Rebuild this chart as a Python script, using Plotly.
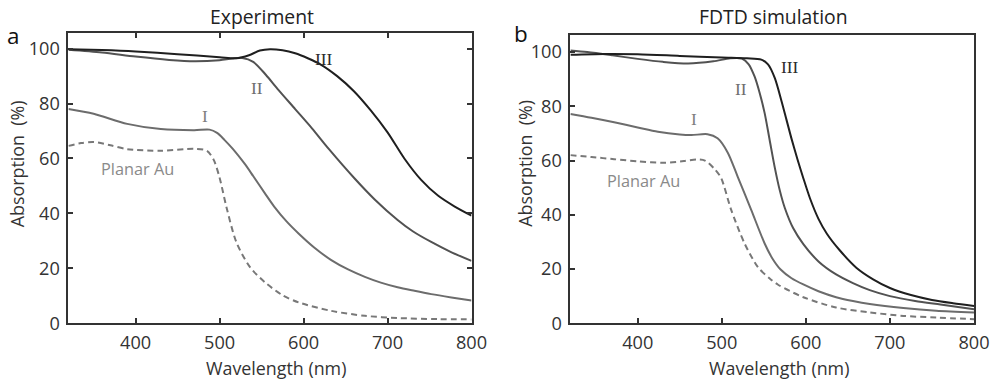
import plotly.graph_objects as go

W, H = 992, 379          # reference canvas (all positions below are given in these pixels)
FW, FH = 1007, 393       # figure size (capture appears scaled by ~0.985 x 0.965)
FS = 1.02                # font compensation

# ---------------- data: Experiment (panel a) ----------------
exp_III_wl = [320, 360, 400, 450, 500, 520, 535, 548, 560, 575, 590, 605, 620, 640, 660, 680, 700, 720, 740, 760, 780, 800]
exp_III = [99.8, 99.5, 99.0, 98.0, 96.9, 96.5, 97.6, 99.3, 99.8, 99.4, 98.3, 96.5, 94.3, 90.0, 84.5, 77.5, 69.5, 60.0, 52.2, 46.5, 42.5, 39.2]

exp_II_wl = [320, 360, 400, 440, 470, 500, 515, 527, 540, 555, 570, 590, 610, 630, 660, 685, 712, 730, 752, 775, 800]
exp_II = [99.6, 98.6, 97.1, 95.9, 95.4, 95.8, 96.4, 96.6, 95.2, 90.5, 85.0, 78.0, 71.0, 63.5, 53.0, 45.0, 37.6, 33.5, 29.6, 26.0, 22.7]

exp_I_wl = [320, 350, 390, 430, 470, 488, 497, 506, 516, 530, 540, 554, 565, 580, 594, 613, 633, 653, 673, 692, 712, 732, 752, 776, 800]
exp_I = [78.0, 76.3, 72.6, 70.7, 70.3, 70.5, 69.3, 66.7, 63.4, 58.0, 53.6, 47.3, 42.5, 37.0, 32.7, 27.5, 23.0, 19.6, 16.9, 14.8, 13.1, 11.8, 10.6, 9.4, 8.3]

exp_P_wl = [320, 335, 350, 370, 390, 430, 470, 485, 493, 500, 508, 520, 536, 554, 575, 594, 633, 673, 712, 760, 800]
exp_P = [64.6, 65.6, 66.0, 64.8, 63.4, 62.8, 63.5, 62.8, 59.5, 53.0, 42.5, 29.5, 20.5, 14.9, 10.2, 7.6, 4.5, 2.7, 1.9, 1.5, 1.4]

# ---------------- data: FDTD simulation (panel b) ----------------
sim_III_wl = [320, 360, 400, 450, 500, 530, 547, 555, 563, 571, 577, 583, 590, 597, 605, 615, 625, 640, 660, 680, 700, 725, 750, 775, 800]
sim_III = [99.0, 99.3, 99.2, 98.6, 98.0, 97.7, 97.2, 95.5, 90.5, 82.0, 75.0, 68.0, 60.5, 53.5, 46.0, 38.5, 33.0, 27.0, 20.5, 16.2, 13.0, 10.4, 8.6, 7.4, 6.4]

sim_II_wl = [320, 340, 370, 400, 430, 460, 490, 510, 524, 532, 539, 545, 551, 557, 563, 569, 575, 585, 597, 615, 636, 656, 676, 700, 730, 760, 800]
sim_II = [100.6, 100.0, 98.8, 97.5, 96.4, 95.8, 96.6, 97.7, 97.6, 95.5, 91.0, 85.0, 77.5, 67.5, 57.5, 49.0, 42.5, 35.0, 29.2, 22.8, 18.0, 14.8, 12.2, 10.0, 8.2, 6.9, 5.2]

sim_I_wl = [320, 345, 372, 400, 424, 450, 464, 483, 495, 507, 519, 535, 551, 560, 570, 583, 597, 615, 636, 656, 676, 716, 755, 800]
sim_I = [77.2, 75.8, 74.1, 72.2, 70.6, 69.6, 69.4, 69.7, 68.2, 63.0, 54.0, 41.8, 29.4, 24.0, 19.8, 16.6, 14.3, 11.8, 9.6, 8.2, 7.1, 5.6, 4.6, 4.0]

sim_P_wl = [320, 345, 372, 400, 432, 455, 470, 480, 491, 499, 511, 527, 543, 557, 567, 597, 636, 676, 716, 755, 800]
sim_P = [62.0, 61.3, 60.5, 59.7, 59.2, 59.8, 60.4, 60.0, 57.0, 53.7, 42.0, 29.5, 20.7, 16.5, 14.2, 9.6, 5.8, 4.0, 2.7, 2.1, 1.5]

x_ticks = [400, 500, 600, 700, 800]
y_ticks = [0, 20, 40, 60, 80, 100]

panel_titles = ["Experiment", "FDTD simulation"]
panel_letters = ["a", "b"]
curve_labels = ["III", "II", "I", "Planar Au"]
x_title = "Wavelength (nm)"
y_title = "Absorption\u00a0 (%)"

exp_label_pos = [(624, 96), (544, 85.6), (482.5, 75.2), (402, 56)]
sim_label_pos = [(581, 94.3), (523, 86.1), (466.4, 75), (407, 52.3)]

# ---------------- styling ----------------
C_III, C_II, C_I, C_P = "#1f1f1f", "#525252", "#6c6c6c", "#787878"
T_III, T_II, T_I, T_P = "#2b2b2b", "#6e6e6e", "#7e7e7e", "#8a8a8a"
AX = "#333333"
SANS = "Open Sans, sans-serif"
SERIF = "Liberation Serif, serif"

fig = go.Figure()

def add(xs, ys, color, axis, dash="solid"):
    fig.add_trace(go.Scatter(
        x=xs, y=ys, mode="lines", xaxis="x" + axis, yaxis="y" + axis,
        line=dict(color=color, width=2, dash=dash, shape="spline", smoothing=0.8),
        showlegend=False, hoverinfo="skip"))

add(exp_P_wl, exp_P, C_P, "", "6px,4px")
add(exp_I_wl, exp_I, C_I, "")
add(exp_II_wl, exp_II, C_II, "")
add(exp_III_wl, exp_III, C_III, "")
add(sim_P_wl, sim_P, C_P, "2", "6px,4px")
add(sim_I_wl, sim_I, C_I, "2")
add(sim_II_wl, sim_II, C_II, "2")
add(sim_III_wl, sim_III, C_III, "2")

def px_x(p):
    return p / W

def px_y(p):
    return 1 - p / H

TICKF = 17.8 * FS

def xaxis(domain, mirror):
    return dict(domain=domain, range=[320, 800], tickvals=x_ticks, ticks="inside",
                ticklen=5, tickwidth=1.5, tickcolor=AX, showline=True, linewidth=2,
                linecolor=AX, mirror=mirror, showgrid=False, zeroline=False,
                tickfont=dict(family=SANS, size=TICKF, color=AX), ticklabelstandoff=2)

def yaxis(domain, rng, anchor, mirror):
    return dict(domain=domain, range=rng, tickvals=y_ticks, ticks="inside",
                ticklen=5, tickwidth=1.5, tickcolor=AX, showline=True, linewidth=2,
                linecolor=AX, mirror=mirror, showgrid=False, zeroline=False,
                anchor=anchor, tickfont=dict(family=SANS, size=TICKF, color=AX),
                ticklabelstandoff=3)

ybot = px_y(320.7)
fig.update_layout(
    width=FW, height=FH, autosize=False, margin=dict(l=0, r=0, t=0, b=0),
    paper_bgcolor="white", plot_bgcolor="white",
    xaxis=xaxis([px_x(68.5), px_x(472)], "ticks") | dict(anchor="y"),
    yaxis=yaxis([ybot, px_y(33)], [0, 105.6], "x", "ticks"),
    xaxis2=xaxis([px_x(571), px_x(975)], True) | dict(anchor="y2"),
    yaxis2=yaxis([ybot, px_y(35)], [0, 106.2], "x2", True),
)

ann = []
for t, cx in zip(panel_titles, [262, 774]):
    ann.append(dict(text=t, x=px_x(cx), y=px_y(16.5), xref="paper", yref="paper",
                    showarrow=False, xanchor="center", yanchor="middle",
                    font=dict(family=SANS, size=19 * FS, color="#222")))
for t, cx, cy in zip(panel_letters, [13, 522], [35, 33]):
    ann.append(dict(text=t, x=px_x(cx), y=px_y(cy), xref="paper", yref="paper",
                    showarrow=False, xanchor="center", yanchor="middle",
                    font=dict(family=SANS, size=22 * FS, color="#111")))
for cx in [276, 779.5]:
    ann.append(dict(text=x_title, x=px_x(cx), y=px_y(365), xref="paper", yref="paper",
                    showarrow=False, xanchor="center", yanchor="middle",
                    font=dict(family=SANS, size=17.5 * FS, color=AX)))
for cx in [17, 526]:
    ann.append(dict(text=y_title, x=px_x(cx), y=px_y(162), xref="paper", yref="paper",
                    showarrow=False, xanchor="center", yanchor="middle", textangle=-90,
                    font=dict(family=SANS, size=17.5 * FS, color=AX)))
colors = [T_III, T_II, T_I, T_P]
for axis, pos in [("", exp_label_pos), ("2", sim_label_pos)]:
    for lab, (lx, ly), col in zip(curve_labels, pos, colors):
        fam = SANS if lab == "Planar Au" else SERIF
        size = 16 if lab == "Planar Au" else 17
        ann.append(dict(text=lab, x=lx, y=ly, xref="x" + axis, yref="y" + axis,
                        showarrow=False, xanchor="center", yanchor="middle",
                        font=dict(family=fam, size=size * FS, color=col)))
fig.update_layout(annotations=ann)

fig.write_html("out.html", config={"responsive": False})
